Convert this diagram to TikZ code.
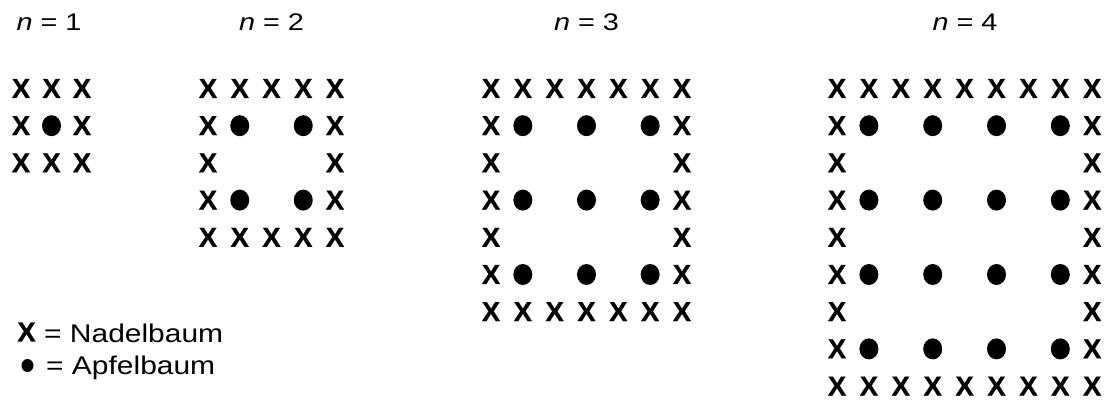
\documentclass[tikz,border=0pt]{standalone}
\usepackage{fontspec}
\setmainfont{Liberation Sans}
\newfontfamily\xfont[FakeBold=0.6]{Liberation Sans Bold}
\usetikzlibrary{shapes.geometric}
\tikzset{
  xmark/.style={inner sep=0pt, font=\fontsize{27.5}{30}\selectfont\xfont},
  dotmark/.style={ellipse, fill=black, inner sep=0pt, minimum width=19pt, minimum height=21pt},
  smalldot/.style={ellipse, fill=black, inner sep=0pt, minimum width=12pt, minimum height=13pt},
  nlabel/.style={inner sep=0pt, anchor=base, font=\fontsize{24}{28}\selectfont},
  legtext/.style={inner sep=0pt, anchor=base west, font=\fontsize{25.6}{30}\selectfont},
}
\begin{document}
\begin{tikzpicture}[x=1pt,y=-1pt]
\useasboundingbox (0,0) rectangle (1110,403);
% labels
\node[nlabel] (l1) at (49,31)    {\scalebox{1.2}[1]{\itshape n\upshape{} = 1}};
\node[nlabel] (l2) at (271.5,31) {\scalebox{1.2}[1]{\itshape n\upshape{} = 2}};
\node[nlabel] (l3) at (586.5,31) {\scalebox{1.2}[1]{\itshape n\upshape{} = 3}};
\node[nlabel] (l4) at (965,31)   {\scalebox{1.2}[1]{\itshape n\upshape{} = 4}};
% grids
\foreach \n/\x/\dx in {1/21/30.5, 2/208/31.75, 3/491/31.83, 4/837/31.9} {
  \pgfmathtruncatemacro\N{2*\n}
  \foreach \i in {0,...,\N} {
    \foreach \j in {0,...,\N} {
      \pgfmathtruncatemacro\isb{or(or(\i==0,\i==\N),or(\j==0,\j==\N))}
      \pgfmathtruncatemacro\isd{and(mod(\i,2)==1,mod(\j,2)==1)}
      \ifnum\isb=1
        \node[xmark] (X\n-\i-\j) at ({\x+\j*\dx},{88.5+\i*37.2}) {X};
      \else
        \ifnum\isd=1
          \node[dotmark] (D\n-\i-\j) at ({\x+\j*\dx},{88.5+\i*37.2}) {};
        \fi
      \fi
    }
  }
}
% legend
\node[xmark] (legX) at (26.5,332) {X};
\node[legtext] (legA) at (44,342) {\scalebox{1.17}[1]{= Nadelbaum}};
\node[smalldot] (legD) at (27.5,365.5) {};
\node[legtext] (legB) at (46,374) {\scalebox{1.17}[1]{= Apfelbaum}};
\end{tikzpicture}
\end{document}
